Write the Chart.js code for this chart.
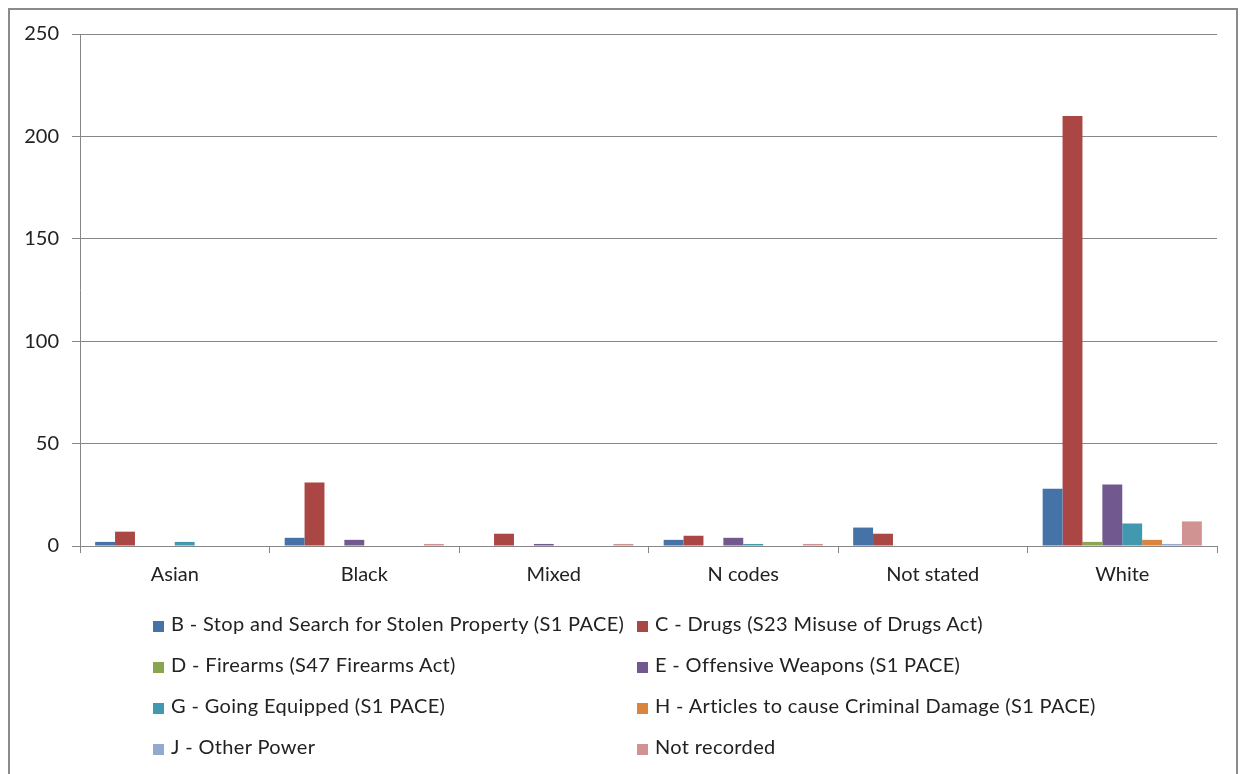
<!DOCTYPE html>
<html>
<head>
<meta charset="utf-8">
<script src="https://cdn.jsdelivr.net/npm/chart.js@4/dist/chart.umd.min.js"></script>
<style>
  body { margin: 0; background: #fff; }
  #wrap { position: relative; width: 1242px; height: 774px; overflow: hidden; }
  #frame { position: absolute; left: 8px; top: 8px; width: 1230px; height: 800px; border: 2px solid #8a8a8a; box-sizing: border-box; }
  canvas { position: absolute; left: 0; top: 0; }
  #legend { position: absolute; left: 153px; top: 610px; font-family: Lato, "Open Sans", sans-serif; font-size: 20px; letter-spacing: 0.35px; color: #222; }
  .item { position: absolute; white-space: nowrap; height: 26px; line-height: 26px; }
  .box { display: inline-block; width: 11px; height: 11px; margin-right: 7px; vertical-align: -1px; }
</style>
</head>
<body>
<div id="wrap">
  <div id="frame"></div>
  <canvas id="plot" width="1242" height="774"></canvas>
  <div id="legend"></div>
</div>
<script>
const categories = ['Asian', 'Black', 'Mixed', 'N codes', 'Not stated', 'White'];

const seriesNames = [
    'B - Stop and Search for Stolen Property (S1 PACE)',
    'C - Drugs (S23 Misuse of Drugs Act)',
    'D - Firearms (S47 Firearms Act)',
    'E - Offensive Weapons (S1 PACE)',
    'G - Going Equipped (S1 PACE)',
    'H - Articles to cause Criminal Damage (S1 PACE)',
    'J - Other Power',
    'Not recorded',
];
const seriesColors = ['#4572A7', '#AA4643', '#89A54E', '#71588F', '#4198AF', '#DB843D', '#93A9CF', '#D19392'];

const stolenProperty = [2, 4, 0, 3, 9, 28];
const drugs = [7, 31, 6, 5, 6, 210];
const firearms = [0, 0, 0, 0, 0, 2];
const offensiveWeapons = [0, 3, 1, 4, 0, 30];
const goingEquipped = [2, 0, 0, 1, 0, 11];
const criminalDamage = [0, 0, 0, 0, 0, 3];
const otherPower = [0, 0, 0, 0, 0, 1];
const notRecorded = [0, 1, 1, 1, 0, 12];

const yTicks = [0, 50, 100, 150, 200, 250];

const seriesValues = [stolenProperty, drugs, firearms, offensiveWeapons, goingEquipped, criminalDamage, otherPower, notRecorded];

const data = {
    labels: categories,
    datasets: seriesNames.map((name, i) => ({
        label: name,
        data: seriesValues[i],
        backgroundColor: seriesColors[i],
        borderWidth: 0,
        categoryPercentage: 0.84,
        barPercentage: 1.0,
    })),
};

const tickFont = { family: 'Lato, "Open Sans", sans-serif', size: 20 };

const options = {
    responsive: false,
    animation: false,
    layout: { padding: { left: 0, right: 25, top: 34, bottom: 184 } },
    plugins: {
        legend: { display: false },
        tooltip: { enabled: false },
    },
    scales: {
        x: {
            grid: {
                drawOnChartArea: false,
                color: '#868686',
                tickLength: 7,
                offset: true,
            },
            border: { color: '#868686', width: 1 },
            ticks: { color: '#222', font: tickFont, padding: 10 },
            afterFit: (scale) => { scale.height = 44; },
        },
        y: {
            min: 0,
            max: 250,
            afterBuildTicks: (scale) => { scale.ticks = yTicks.map(v => ({ value: v })); },
            grid: { color: '#868686', tickLength: 8 },
            border: { color: '#868686', width: 1 },
            ticks: { color: '#222', font: tickFont, padding: 13 },
            afterFit: (scale) => { scale.width = 80; },
        },
    },
};

let ctx = document.getElementById('plot');
var stopSearchChart = new Chart(ctx, {
    type: 'bar',
    data: data,
    options: options,
});

// two-column legend built from the series arrays
const legend = document.getElementById('legend');
seriesNames.forEach((name, i) => {
    const item = document.createElement('div');
    item.className = 'item';
    item.style.left = (i % 2) * 484 + 'px';
    item.style.top = Math.floor(i / 2) * 41 + 'px';
    item.innerHTML = '<span class="box" style="background:' + seriesColors[i] + '"></span>';
    item.appendChild(document.createTextNode(name));
    legend.appendChild(item);
});
</script>
</body>
</html>
